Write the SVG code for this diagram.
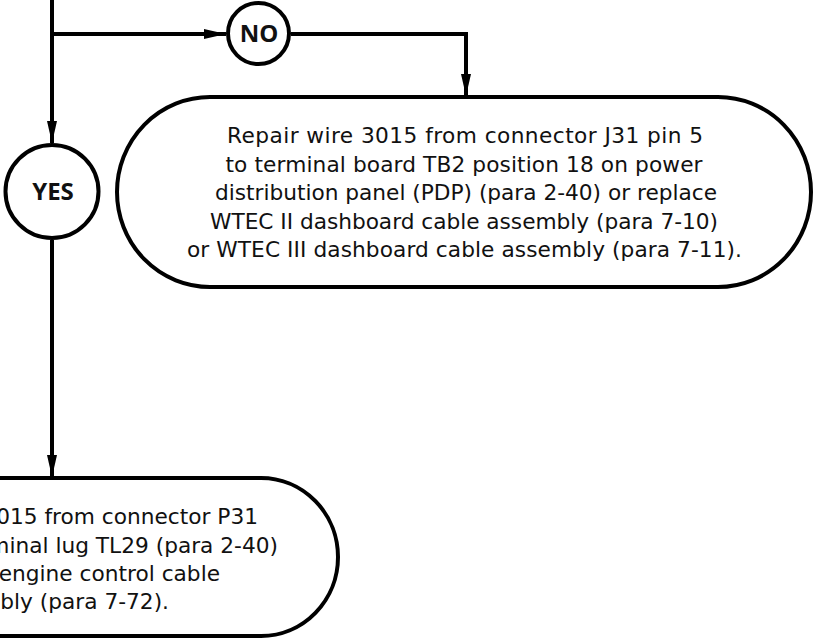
<svg xmlns="http://www.w3.org/2000/svg" width="817" height="639" viewBox="0 0 817 639">
<defs>
<style>
.shape{fill:#fff;stroke:#000;stroke-width:4}
.conn{fill:none;stroke:#000;stroke-width:4}
.lbl{font-family:"Open Sans","DejaVu Sans",sans-serif;font-weight:bold;font-size:24px;fill:#111;text-anchor:middle}
.body{font-family:"DejaVu Sans","Noto Sans",sans-serif;font-size:21.7px;fill:#111;text-anchor:middle}
.body2{font-family:"DejaVu Sans","Noto Sans",sans-serif;font-size:21.7px;fill:#111;text-anchor:end}
</style>
<marker id="arr" markerUnits="userSpaceOnUse" markerWidth="22" markerHeight="10" refX="22" refY="5" orient="auto">
<path d="M0,0 L22,5 L0,10 z" fill="#000"/>
</marker>
</defs>
<rect width="817" height="639" fill="#fff"/>
<g id="connectors">
<path class="conn" d="M52,0 V143" marker-end="url(#arr)"/>
<path class="conn" d="M52,34 H226" marker-end="url(#arr)"/>
<path class="conn" d="M291,34 H466 V96" marker-end="url(#arr)"/>
<path class="conn" d="M52,240 V477" marker-end="url(#arr)"/>
</g>
<g id="no">
<circle class="shape" cx="258.5" cy="33.5" r="30.5"/>
<text class="lbl" x="259" y="42">NO</text>
</g>
<g id="yes">
<circle class="shape" cx="52" cy="191.5" r="46.5"/>
<text class="lbl" x="53" y="200">YES</text>
</g>
<g id="repair-j31">
<rect class="shape" x="117" y="97" width="694" height="190" rx="93" ry="95"/>
<text class="body" x="465" y="143" textLength="476">Repair wire 3015 from connector J31 pin 5</text>
<text class="body" x="464" y="172" textLength="477">to terminal board TB2 position 18 on power</text>
<text class="body" x="466" y="200" textLength="502">distribution panel (PDP) (para 2-40) or replace</text>
<text class="body" x="464" y="229" textLength="508">WTEC II dashboard cable assembly (para 7-10)</text>
<text class="body" x="464.5" y="257" textLength="555">or WTEC III dashboard cable assembly (para 7-11).</text>
</g>
<g id="repair-p31">
<rect class="shape" x="-400" y="478" width="738" height="158" rx="77" ry="79"/>
<text class="body2" x="258" y="524">Repair wire 3015 from connector P31</text>
<text class="body2" x="278" y="553">to terminal lug TL29 (para 2-40)</text>
<text class="body2" x="220" y="581">or replace engine control cable</text>
<text class="body2" x="169" y="609">assembly (para 7-72).</text>
</g>
</svg>
